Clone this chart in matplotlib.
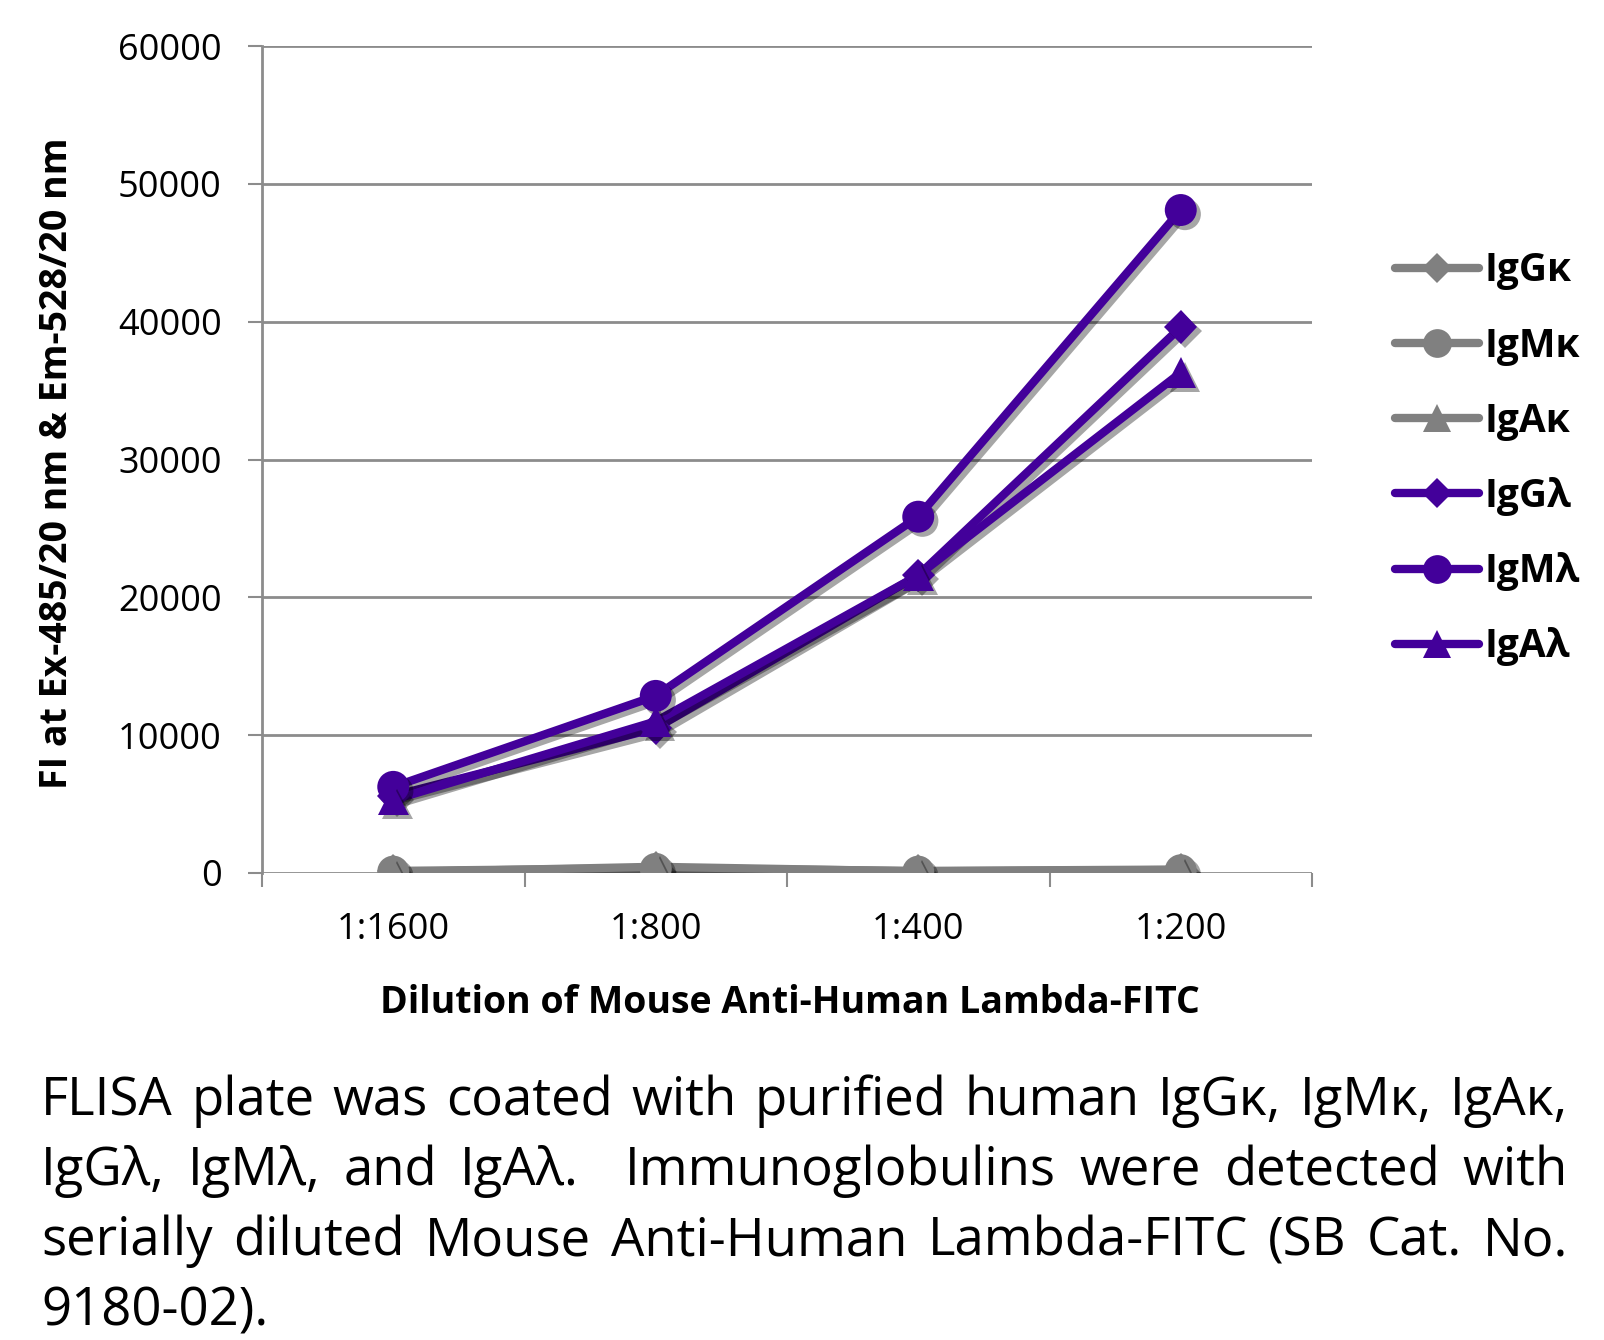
import re
import matplotlib
matplotlib.use("Agg")
import matplotlib.pyplot as plt
import matplotlib.patheffects as pe
from matplotlib.lines import Line2D
from matplotlib.ticker import FixedLocator

plt.rcParams['font.family'] = ['Open Sans', 'DejaVu Sans']

# data
dilutions = ['1:1600', '1:800', '1:400', '1:200']
igg_kappa = [150, 350, 150, 250]
igm_kappa = [100, 300, 100, 200]
iga_kappa = [50, 450, 120, 220]
igg_lambda = [5600, 10500, 21600, 39600]
igm_lambda = [6250, 12850, 25850, 48100]
iga_lambda = [5300, 11000, 21600, 36300]

series_names = ['IgG\u03ba', 'IgM\u03ba', 'IgA\u03ba', 'IgG\u03bb', 'IgM\u03bb', 'IgA\u03bb']
series_vals = [igg_kappa, igm_kappa, iga_kappa, igg_lambda, igm_lambda, iga_lambda]

y_ticks = [0, 10000, 20000, 30000, 40000, 50000, 60000]

caption_lines = [
    'FLISA plate was coated with purified human IgG\u03ba, IgM\u03ba, IgA\u03ba,',
    'IgG\u03bb, IgM\u03bb, and IgA\u03bb.  Immunoglobulins were detected with',
    'serially diluted Mouse Anti-Human Lambda-FITC (SB Cat. No.',
    '9180-02).',
]

grey = '#808080'
purple = '#43009a'
colors = [grey, grey, grey, purple, purple, purple]
markers = ['D', 'o', '^', 'D', 'o', '^']
msizes = [17, 23, 22, 17, 23, 22]
grid_col = '#8c8c8c'

W, H = 1604, 1340
fig = plt.figure(figsize=(W / 100, H / 100), dpi=100)
ax = fig.add_axes([262 / W, 1 - 873 / H, 1050 / W, 827 / H])

xs = [i + 0.5 for i in range(len(dilutions))]

line_fx = [pe.SimpleLineShadow(offset=(3, -3), shadow_color='black', alpha=0.35), pe.Normal()]
mark_fx = [pe.SimplePatchShadow(offset=(3, -3), shadow_rgbFace='black', alpha=0.35), pe.Normal()]

handles = []
for name, vals, c, m, ms in zip(series_names, series_vals, colors, markers, msizes):
    ax.plot(xs, vals, color=c, lw=6, solid_capstyle='round', solid_joinstyle='round',
            path_effects=line_fx, zorder=3)
    ax.plot(xs, vals, ls='none', marker=m, ms=ms, color=c, markeredgewidth=0,
            path_effects=mark_fx, zorder=4)
    handles.append(Line2D([], [], color=c, lw=6, solid_capstyle='round', marker=m,
                          ms=ms * 0.9, markeredgewidth=0, label=name))

ax.set_xlim(0, len(dilutions))
ax.set_ylim(0, 60000)
ax.set_yticks(y_ticks)
ax.set_yticklabels([str(v) for v in y_ticks])
ax.set_xticks(xs)
ax.set_xticklabels(dilutions)
ax.xaxis.set_minor_locator(FixedLocator(range(len(dilutions) + 1)))

for v in y_ticks:
    ax.axhline(v, color=grid_col, lw=2, zorder=1)

for s in ['top', 'right', 'bottom']:
    ax.spines[s].set_visible(False)
ax.spines['left'].set_color(grid_col)
ax.spines['left'].set_linewidth(2)

ax.tick_params(axis='y', length=10, width=1.5, color=grid_col, pad=19, labelsize=26)
ax.tick_params(axis='x', which='major', length=0, pad=28, labelsize=26)
ax.tick_params(axis='x', which='minor', length=10, width=1.5, color=grid_col)

ax.set_xlabel('Dilution of Mouse Anti-Human Lambda-FITC', fontsize=27, fontweight='bold')
ax.xaxis.set_label_coords(0.503, -0.134)
ax.set_ylabel('FI at Ex-485/20 nm & Em-528/20 nm', fontsize=27, fontweight='bold')
ax.yaxis.set_label_coords(-0.177, 0.495)

fig.legend(handles=handles, loc='upper left', bbox_to_anchor=(1376 / W, 1 - 232 / H),
           frameon=False, prop={'weight': 'bold', 'size': 28},
           handlelength=2.15, handletextpad=0.13, labelspacing=0.93, borderpad=0)

# caption, justified like the original text block
renderer = fig.canvas.get_renderer()
left, right = 41, 1568
baselines = [1115, 1185, 1255, 1325]
cap_size = 38
cap_font = ['Open Sans', 'DejaVu Sans']
for li, (line, base) in enumerate(zip(caption_lines, baselines)):
    parts = re.split(r'( +)', line)
    words = parts[0::2]
    gaps = [len(g) for g in parts[1::2]]
    y = 1 - base / H
    texts = []
    widths = []
    for w in words:
        t = fig.text(0, y, w, fontsize=cap_size, family=cap_font, va='baseline', ha='left')
        widths.append(t.get_window_extent(renderer).width)
        texts.append(t)
    space = fig.text(0, 0, 'a a', fontsize=cap_size, family=cap_font).get_window_extent(renderer).width
    space -= 2 * fig.text(0, 0, 'a', fontsize=cap_size, family=cap_font).get_window_extent(renderer).width
    for t in fig.texts[-2:]:
        t.remove()
    if li < len(caption_lines) - 1 and gaps:
        unit = (right - left - sum(widths)) / sum(gaps)
    else:
        unit = space
    x = left
    for i, t in enumerate(texts):
        t.set_x(x / W)
        x += widths[i]
        if i < len(gaps):
            x += unit * gaps[i]

fig.savefig('out.png', dpi=100)
